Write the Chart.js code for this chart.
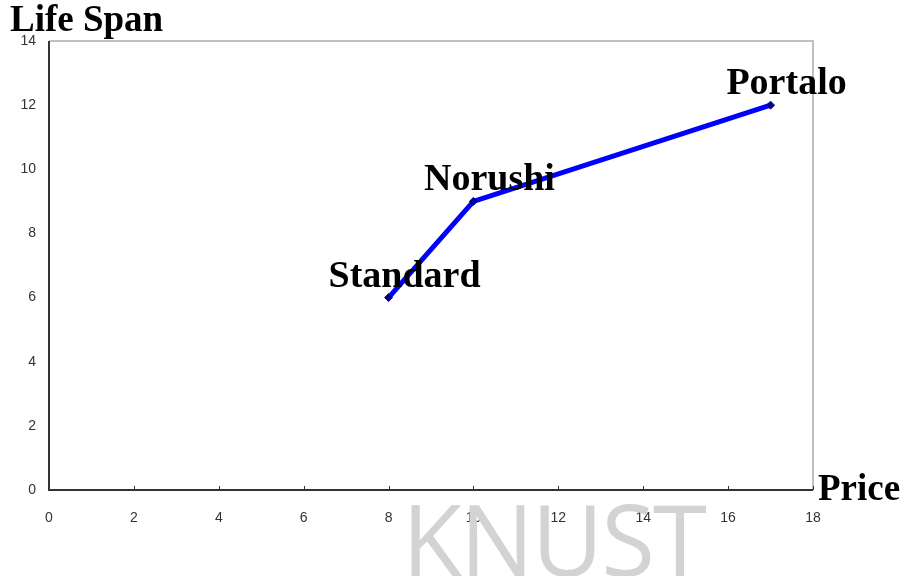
<!DOCTYPE html>
<html lang="en">
<head>
    <meta charset="UTF-8">
    <title>Life Span vs Price</title>
    <script src="https://cdn.jsdelivr.net/npm/chart.js@4"></script>
    <style>
        body { margin: 0; background: #fff; }
        .wrap { position: relative; width: 903px; height: 576px; overflow: hidden; }
        .axis-title {
            position: absolute;
            font-family: "Liberation Serif", "Times New Roman", serif;
            font-weight: bold;
            font-size: 37px;
            color: #000;
            line-height: 1;
            white-space: nowrap;
        }
        .watermark {
            position: absolute;
            left: 402px;
            top: 489px;
            font-family: "Open Sans", "Liberation Sans", sans-serif;
            font-weight: 400;
            font-size: 98px;
            letter-spacing: -2px;
            color: #d3d3d3;
            line-height: 1;
        }
    </style>
</head>
<body>

<div class="wrap">
    <div class="watermark">KNUST</div>
    <canvas id="myChart" width="903" height="576"></canvas>
    <div class="axis-title" style="left:10px; top:0px;">Life Span</div>
    <div class="axis-title" style="left:818px; top:469px;">Price</div>
</div>

<script>
    const products = ["Standard", "Norushi", "Portalo"];
    const prices = [8, 10, 17];
    const lifeSpans = [6, 9, 12];
    const xTicks = [0, 2, 4, 6, 8, 10, 12, 14, 16, 18];
    const yTicks = [0, 2, 4, 6, 8, 10, 12, 14];

    // frame, small tick marks and the product names next to each point
    const decorations = {
        id: 'decorations',
        afterDatasetsDraw(chart) {
            const ctx = chart.ctx;
            const area = chart.chartArea;
            const xs = chart.scales.x;
            const ys = chart.scales.y;
            ctx.save();

            ctx.strokeStyle = '#c0c0c0';
            ctx.lineWidth = 2;
            ctx.beginPath();
            ctx.moveTo(area.left, area.top);
            ctx.lineTo(area.right, area.top);
            ctx.lineTo(area.right, area.bottom);
            ctx.stroke();

            ctx.strokeStyle = '#333';
            ctx.lineWidth = 2;
            ctx.beginPath();
            ctx.moveTo(area.left, area.top);
            ctx.lineTo(area.left, area.bottom);
            ctx.lineTo(area.right, area.bottom);
            ctx.stroke();

            ctx.lineWidth = 1;
            ctx.beginPath();
            xTicks.forEach(v => {
                const px = Math.round(xs.getPixelForValue(v)) + 0.5;
                ctx.moveTo(px, area.bottom);
                ctx.lineTo(px, area.bottom - 4);
            });
            ctx.stroke();

            ctx.fillStyle = '#000';
            ctx.font = 'bold 38px "Liberation Serif", "Times New Roman", serif';
            ctx.textAlign = 'center';
            ctx.textBaseline = 'alphabetic';
            products.forEach((name, i) => {
                const px = xs.getPixelForValue(prices[i]);
                const py = ys.getPixelForValue(lifeSpans[i]);
                ctx.fillText(name, px + 16, py - 11);
            });
            ctx.restore();
        }
    };

    function init() {
        const ctx = document.getElementById("myChart").getContext('2d');
        new Chart(ctx, {
            type: 'scatter',
            data: {
                datasets: [{
                    label: 'Life Span',
                    data: prices.map((p, i) => ({x: p, y: lifeSpans[i]})),
                    showLine: true,
                    borderColor: '#0000ff',
                    borderWidth: 5,
                    pointStyle: 'rectRot',
                    pointRadius: 4,
                    pointBackgroundColor: '#000090',
                    pointBorderColor: '#000090',
                    pointBorderWidth: 1,
                }],
            },
            plugins: [decorations],
            options: {
                responsive: false,
                animation: false,
                layout: {
                    padding: {left: 0, top: 41, right: 90, bottom: 0}
                },
                plugins: {
                    legend: {display: false},
                    tooltip: {enabled: false},
                },
                scales: {
                    x: {
                        type: 'linear',
                        min: 0,
                        max: 18,
                        afterBuildTicks: scale => { scale.ticks = xTicks.map(v => ({value: v})); },
                        afterFit: scale => { scale.height = 86; },
                        grid: {display: false},
                        border: {display: false},
                        ticks: {
                            padding: 12,
                            color: '#333',
                            font: {family: '"Liberation Sans", Arial, sans-serif', size: 14},
                        },
                    },
                    y: {
                        type: 'linear',
                        min: 0,
                        max: 14,
                        afterBuildTicks: scale => { scale.ticks = yTicks.map(v => ({value: v})); },
                        afterFit: scale => { scale.width = 49; },
                        grid: {display: false},
                        border: {display: false},
                        ticks: {
                            padding: 5,
                            color: '#333',
                            font: {family: '"Liberation Sans", Arial, sans-serif', size: 14},
                        },
                    },
                },
            }
        });
    }

    document.addEventListener('DOMContentLoaded', init);
</script>

</body>
</html>
